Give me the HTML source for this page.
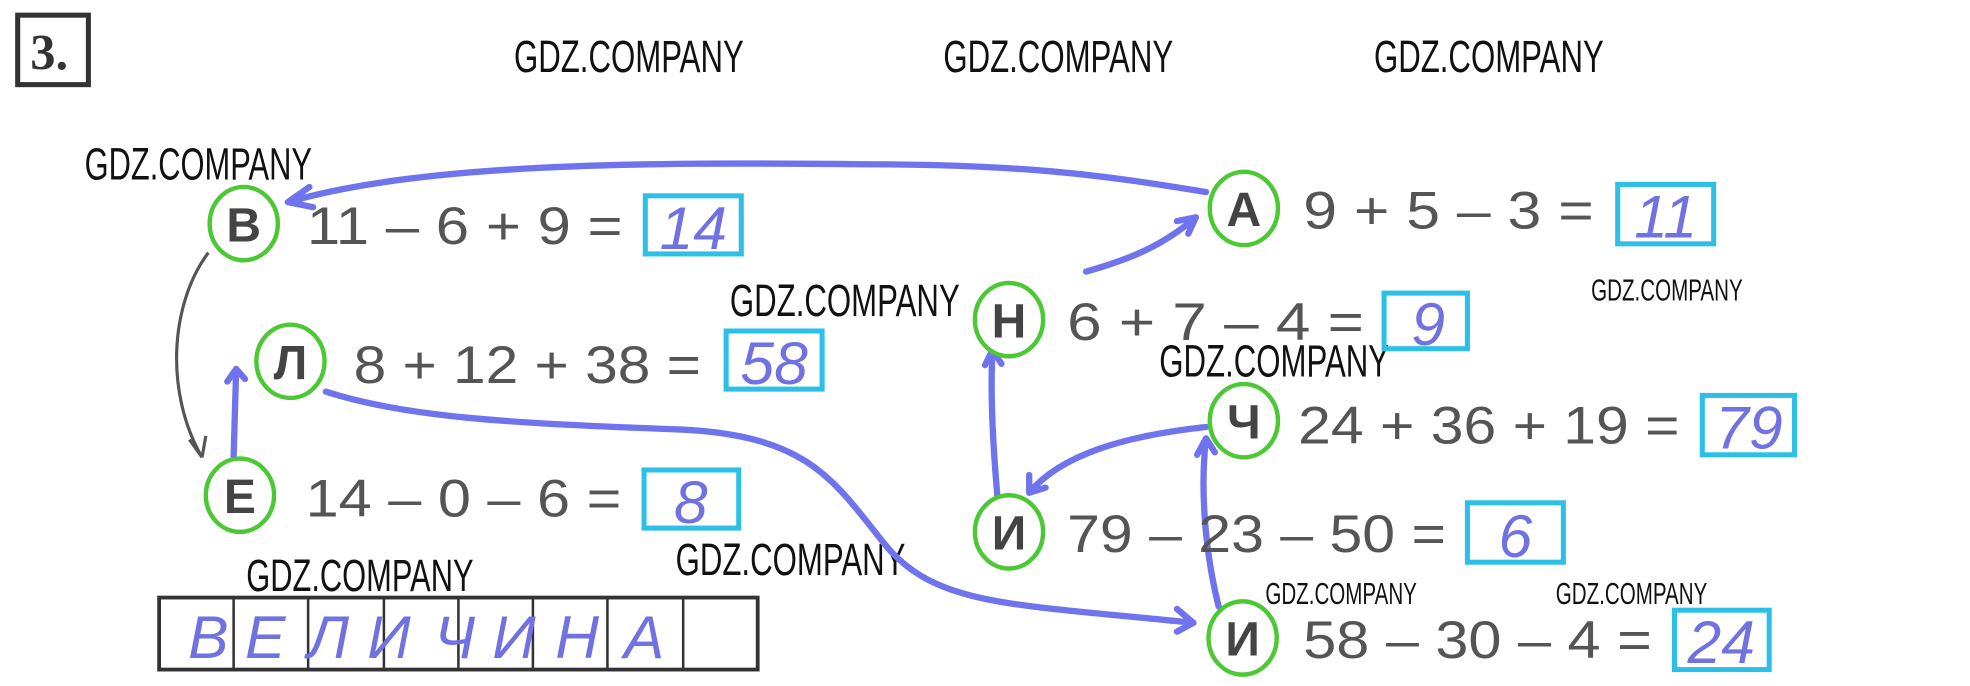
<!DOCTYPE html>
<html><head><meta charset="utf-8"><style>
html,body{margin:0;padding:0;background:#fff;}
svg{display:block;}
.wm{font-family:"Liberation Sans Narrow","Liberation Sans",sans-serif;fill:#111;}
.eq{font-family:"Liberation Sans","DejaVu Sans",sans-serif;fill:#555;font-size:42px;}
.lt{font-family:"Liberation Sans","DejaVu Sans",sans-serif;font-weight:bold;fill:#444;font-size:38px;text-anchor:middle;}
.ans{font-family:"Liberation Sans",sans-serif;font-style:italic;fill:#6f72e0;font-size:48px;text-anchor:middle;}
.box{fill:none;stroke:#2cc0e8;stroke-width:4;}
.c{fill:#fff;stroke:#4cc834;stroke-width:3.5;}
.ar{fill:none;stroke:#6f74ee;stroke-width:5;stroke-linecap:round;stroke-linejoin:round;}
</style></head><body>
<svg width="1970" height="686" viewBox="0 0 1560 543" preserveAspectRatio="none" xmlns="http://www.w3.org/2000/svg">
<rect x="14" y="12" width="56" height="55" fill="none" stroke="#333" stroke-width="4"/>
<text x="24" y="55" font-family="Liberation Serif,serif" font-weight="bold" font-size="40" fill="#333">3.</text>
<g class="wm" font-size="36">
<text x="407" y="57" textLength="182" lengthAdjust="spacingAndGlyphs">GDZ.COMPANY</text>
<text x="747" y="57" textLength="182" lengthAdjust="spacingAndGlyphs">GDZ.COMPANY</text>
<text x="1088" y="57" textLength="182" lengthAdjust="spacingAndGlyphs">GDZ.COMPANY</text>
<text x="67" y="142" textLength="180" lengthAdjust="spacingAndGlyphs">GDZ.COMPANY</text>
<text x="578" y="250" textLength="182" lengthAdjust="spacingAndGlyphs">GDZ.COMPANY</text>
<text x="918" y="298" textLength="182" lengthAdjust="spacingAndGlyphs">GDZ.COMPANY</text>
<text x="195" y="468" textLength="180" lengthAdjust="spacingAndGlyphs">GDZ.COMPANY</text>
<text x="535" y="455" textLength="182" lengthAdjust="spacingAndGlyphs">GDZ.COMPANY</text>
</g>
<g class="wm" font-size="24">
<text x="1260" y="238" textLength="120" lengthAdjust="spacingAndGlyphs">GDZ.COMPANY</text>
<text x="1002" y="478" textLength="120" lengthAdjust="spacingAndGlyphs">GDZ.COMPANY</text>
<text x="1232" y="478" textLength="120" lengthAdjust="spacingAndGlyphs">GDZ.COMPANY</text>
</g>
<path class="ar" d="M955,152 C880,140 820,130 680,130 C500,128 330,130 228,160"/>
<path class="ar" d="M228,160 L245,148 M228,160 L248,164"/>
<path fill="none" stroke="#555" stroke-width="2.5" d="M165,200 C135,240 130,310 160,362"/>
<path fill="none" stroke="#555" stroke-width="2.5" d="M160,362 L150,348 M160,362 L163,345"/>
<path class="ar" d="M185,362 L187,292 M187,292 L180,302 M187,292 L194,300"/>
<path class="ar" d="M258,310 C320,330 400,335 540,340 C640,345 660,380 700,430 C740,480 800,478 945,493"/>
<path class="ar" d="M945,493 L932,482 M945,493 L932,500"/>
<path class="ar" d="M965,480 C955,440 950,390 955,347 M955,347 L948,360 M955,347 L962,358"/>
<path class="ar" d="M955,338 C890,345 840,360 815,390 M815,390 L815,376 M815,390 L828,386"/>
<path class="ar" d="M790,395 C786,350 784,310 786,277 M786,277 L780,289 M786,277 L793,288"/>
<path class="ar" d="M860,215 C895,205 920,195 947,172 M947,172 L932,175 M947,172 L941,185"/>
<g>
<ellipse class="c" cx="193" cy="177" rx="27" ry="29"/><text class="lt" x="193" y="191">В</text>
<ellipse class="c" cx="985" cy="165" rx="27" ry="29"/><text class="lt" x="985" y="179">А</text>
<ellipse class="c" cx="799" cy="253" rx="27" ry="29"/><text class="lt" x="799" y="267">Н</text>
<ellipse class="c" cx="230" cy="286" rx="27" ry="29"/><text class="lt" x="230" y="300">Л</text>
<ellipse class="c" cx="985" cy="333" rx="27" ry="29"/><text class="lt" x="985" y="347">Ч</text>
<ellipse class="c" cx="190" cy="392" rx="27" ry="29"/><text class="lt" x="190" y="406">Е</text>
<ellipse class="c" cx="799" cy="421" rx="27" ry="29"/><text class="lt" x="799" y="435">И</text>
<ellipse class="c" cx="984" cy="505" rx="27" ry="29"/><text class="lt" x="984" y="519">И</text>
</g>
<text class="eq" x="243" y="193" textLength="250" lengthAdjust="spacingAndGlyphs">11 – 6 + 9 =</text>
<text class="eq" x="1032" y="181" textLength="230" lengthAdjust="spacingAndGlyphs">9 + 5 – 3 =</text>
<text class="eq" x="845" y="269" textLength="235" lengthAdjust="spacingAndGlyphs">6 + 7 – 4 =</text>
<text class="eq" x="280" y="303" textLength="275" lengthAdjust="spacingAndGlyphs">8 + 12 + 38 =</text>
<text class="eq" x="1028" y="351" textLength="302" lengthAdjust="spacingAndGlyphs">24 + 36 + 19 =</text>
<text class="eq" x="242" y="409" textLength="250" lengthAdjust="spacingAndGlyphs">14 – 0 – 6 =</text>
<text class="eq" x="845" y="437" textLength="300" lengthAdjust="spacingAndGlyphs">79 – 23 – 50 =</text>
<text class="eq" x="1032" y="521" textLength="276" lengthAdjust="spacingAndGlyphs">58 – 30 – 4 =</text>
<rect class="box" x="511" y="155" width="76" height="46"/><text class="ans" x="549" y="197">14</text>
<rect class="box" x="1281" y="146" width="76" height="47"/><text class="ans" x="1319" y="188">11</text>
<rect class="box" x="1096" y="232" width="66" height="44"/><text class="ans" x="1131" y="273">9</text>
<rect class="box" x="575" y="262" width="76" height="46"/><text class="ans" x="613" y="304">58</text>
<rect class="box" x="1348" y="313" width="73" height="47"/><text class="ans" x="1385" y="355">79</text>
<rect class="box" x="510" y="372" width="75" height="46"/><text class="ans" x="547" y="414">8</text>
<rect class="box" x="1162" y="398" width="76" height="47"/><text class="ans" x="1200" y="441">6</text>
<rect class="box" x="1326" y="483" width="75" height="47"/><text class="ans" x="1363" y="525">24</text>
<rect x="126" y="473" width="474" height="57" fill="none" stroke="#333" stroke-width="3"/>
<g stroke="#333" stroke-width="2">
<line x1="185" y1="473" x2="185" y2="530"/><line x1="244" y1="473" x2="244" y2="530"/>
<line x1="304" y1="473" x2="304" y2="530"/><line x1="363" y1="473" x2="363" y2="530"/>
<line x1="422" y1="473" x2="422" y2="530"/><line x1="481" y1="473" x2="481" y2="530"/>
<line x1="541" y1="473" x2="541" y2="530"/>
</g>
<g class="ans" font-size="46">
<text x="165" y="521">В</text><text x="210" y="521">Е</text><text x="260" y="521">Л</text><text x="308" y="521">И</text>
<text x="360" y="521">Ч</text><text x="407" y="521">И</text><text x="457" y="521">Н</text><text x="510" y="521">А</text>
</g>
</svg>
</body></html>
